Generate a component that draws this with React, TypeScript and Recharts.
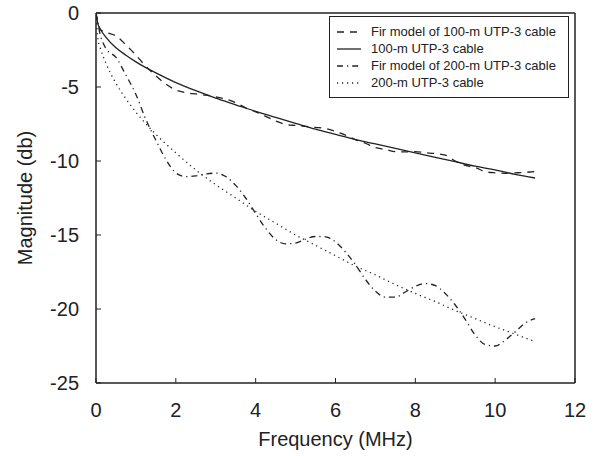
import { LineChart, Line, XAxis, YAxis, Legend } from "recharts";

// smooth cable curves are read at a coarser frequency grid
const freqCoarse = [
  0, 0.05, 0.1, 0.25, 0.5, 0.75, 1, 1.5, 2, 2.5, 3, 3.5, 4, 4.5, 5, 5.5, 6, 6.5,
  7, 7.5, 8, 8.5, 9, 9.5, 10, 10.5, 11
];
const cable100 = [
  0, -0.75, -1.05, -1.65, -2.35, -2.85, -3.3, -4.05, -4.7, -5.25, -5.75, -6.2,
  -6.65, -7.05, -7.45, -7.85, -8.2, -8.55, -8.85, -9.15, -9.45, -9.75, -10.05,
  -10.35, -10.6, -10.9, -11.15
];
const cable200 = [
  0, -1.8, -2.3, -3.4, -4.75, -5.8, -6.7, -8.2, -9.45, -10.6, -11.6, -12.5,
  -13.4, -14.2, -15.0, -15.7, -16.4, -17.1, -17.7, -18.35, -18.95, -19.5, -20.1,
  -20.65, -21.2, -21.7, -22.2
];

// FIR models ripple, so they are read more finely
const freqFine = [
  0, 0.1, 0.25, 0.5, 0.75, 1, 1.25, 1.5, 1.75, 2, 2.25, 2.5, 2.75, 3, 3.25, 3.5,
  3.75, 4, 4.25, 4.5, 4.75, 5, 5.25, 5.5, 5.75, 6, 6.25, 6.5, 6.75, 7, 7.25, 7.5,
  7.75, 8, 8.25, 8.5, 8.75, 9, 9.25, 9.5, 9.75, 10, 10.25, 10.5, 10.75, 11
];
const fir100 = [
  0, -1.1, -1.3, -1.55, -2.15, -2.85, -3.6, -4.25, -4.8, -5.2, -5.38, -5.47,
  -5.55, -5.67, -5.82, -6.05, -6.4, -6.68, -6.98, -7.3, -7.52, -7.6, -7.66,
  -7.73, -7.8, -8.0, -8.25, -8.55, -8.8, -9.1, -9.22, -9.37, -9.38, -9.37, -9.44,
  -9.5, -9.6, -10.0, -10.3, -10.45, -10.72, -10.8, -10.83, -10.8, -10.77, -10.72
];
const fir200 = [
  0, -1.4, -2.4, -3.0, -4.2, -5.5, -7.2, -8.6, -9.9, -10.8, -11.06, -11.0,
  -10.88, -10.82, -11.05, -11.65, -12.5, -13.55, -14.55, -15.3, -15.6, -15.55,
  -15.28, -15.1, -15.12, -15.47, -16.15, -17.0, -18.0, -18.8, -19.2, -19.2,
  -18.85, -18.47, -18.28, -18.42, -18.95, -19.73, -20.7, -21.76, -22.4, -22.5,
  -22.1, -21.55, -20.95, -20.65
];

const xTicks = [0, 2, 4, 6, 8, 10, 12];
const yTicks = [-25, -20, -15, -10, -5, 0];

const toRows = (xs: number[], ys: number[]) => xs.map((f, i) => ({ f, v: ys[i] }));

const INK = "#222";
const FONT = '"Liberation Sans", Arial, sans-serif';
const TICK = 5;

const series = [
  { name: "Fir model of 100-m UTP-3 cable", data: toRows(freqFine, fir100), dash: "7 6" },
  { name: "100-m UTP-3 cable", data: toRows(freqCoarse, cable100), dash: undefined },
  { name: "Fir model of 200-m UTP-3 cable", data: toRows(freqFine, fir200), dash: "6 4 1.2 4" },
  { name: "200-m UTP-3 cable", data: toRows(freqCoarse, cable200), dash: "1.2 3.8" }
];

const LegendBox = () => (
  <div
    style={{
      border: `1px solid ${INK}`,
      background: "#fff",
      padding: "6px 8px 6px 7px",
      fontFamily: FONT,
      fontSize: 13,
      color: "#222"
    }}
  >
    {series.map((s) => (
      <div key={s.name} style={{ display: "flex", alignItems: "center", height: 17 }}>
        <svg width={24} height={10} style={{ marginRight: 10 }}>
          <line x1={0} y1={5} x2={24} y2={5} stroke={INK} strokeWidth={1.3} strokeDasharray={s.dash} />
        </svg>
        <span>{s.name}</span>
      </div>
    ))}
  </div>
);

export default function App() {
  const tickStyle = { fontFamily: FONT, fontSize: 20, fill: "#222" };
  const labelStyle = { fontFamily: FONT, fontSize: 20, fill: "#222" };
  const frame = { stroke: INK, strokeWidth: 1.5 };
  const mark = { stroke: INK, strokeWidth: 1 };
  return (
    <div style={{ position: "absolute", left: 0, top: 0, width: 603, height: 456, background: "#fff" }}>
      <LineChart width={603} height={456} margin={{ top: 13, right: 28, bottom: 0, left: 0 }}>
        {/* negative tickSize turns the tick marks inward */}
        <XAxis
          xAxisId="x"
          dataKey="f"
          type="number"
          domain={[0, 12]}
          ticks={xTicks}
          allowDataOverflow
          height={73}
          tickLine={mark}
          tickSize={-TICK}
          tickMargin={20 + TICK}
          tick={tickStyle}
          axisLine={frame}
          label={{ value: "Frequency (MHz)", position: "insideBottom", offset: 10, style: labelStyle }}
        />
        <XAxis
          xAxisId="xt"
          dataKey="f"
          type="number"
          domain={[0, 12]}
          ticks={xTicks}
          allowDataOverflow
          orientation="top"
          mirror
          tick={false}
          tickLine={mark}
          tickSize={TICK}
          axisLine={frame}
        />
        <YAxis
          yAxisId="y"
          type="number"
          domain={[-25, 0]}
          ticks={yTicks}
          allowDataOverflow
          width={96}
          tickLine={mark}
          tickSize={-TICK}
          tickMargin={17 + TICK}
          tick={tickStyle}
          axisLine={frame}
          label={{ value: "Magnitude (db)", angle: -90, position: "insideLeft", offset: 25, style: { ...labelStyle, textAnchor: "middle" } }}
        />
        <YAxis
          yAxisId="yr"
          type="number"
          domain={[-25, 0]}
          ticks={yTicks}
          allowDataOverflow
          orientation="right"
          mirror
          tick={false}
          tickLine={mark}
          tickSize={TICK}
          axisLine={frame}
        />
        {series.map((s) => (
          <Line
            key={s.name}
            xAxisId="x"
            yAxisId="y"
            data={s.data}
            dataKey="v"
            name={s.name}
            type="monotone"
            stroke={INK}
            strokeWidth={1.3}
            strokeDasharray={s.dash}
            dot={false}
            isAnimationActive={false}
          />
        ))}
        {/* same series bound to the top/right frame axes so they get ticks; not drawn */}
        <Line
          xAxisId="xt"
          yAxisId="yr"
          data={series[1].data}
          dataKey="v"
          stroke="none"
          dot={false}
          legendType="none"
          isAnimationActive={false}
        />
        <Legend
          layout="vertical"
          align="center"
          verticalAlign="middle"
          content={() => <LegendBox />}
          wrapperStyle={{ left: 329, top: 16, width: 240 }}
        />
      </LineChart>
    </div>
  );
}
